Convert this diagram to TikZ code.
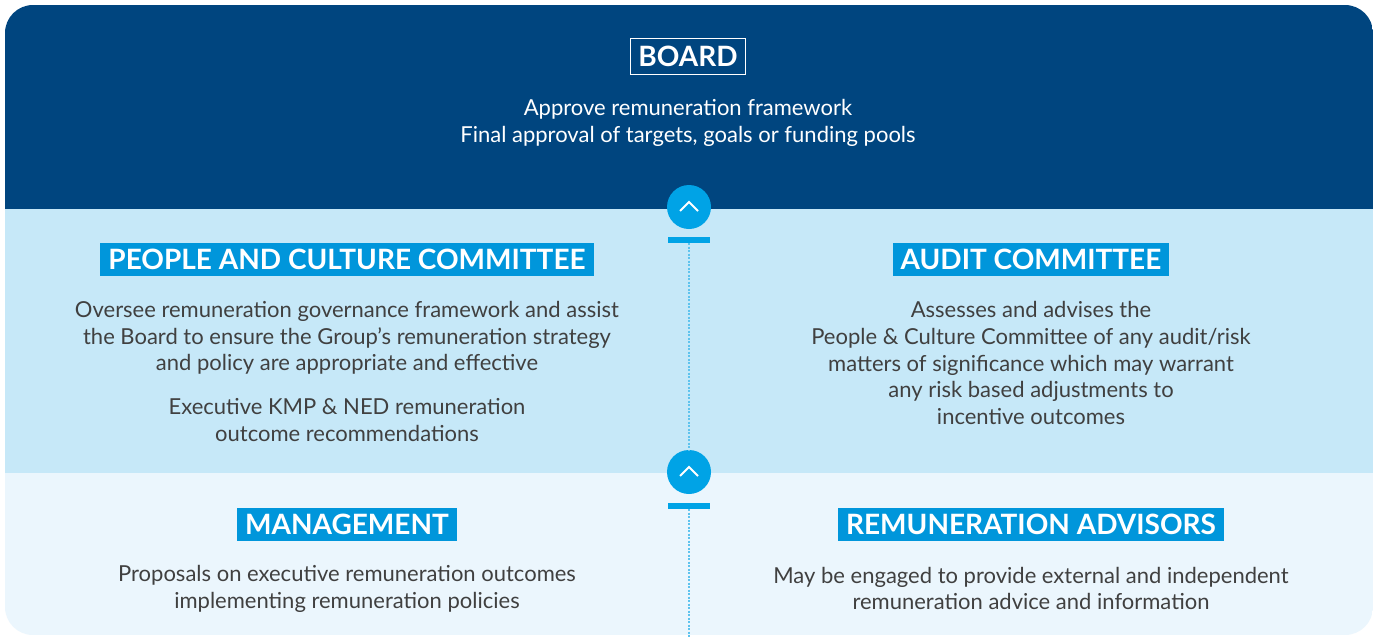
\documentclass[tikz,border=0pt]{standalone}
\usepackage{fontspec}
\setmainfont{Lato}
\usetikzlibrary{positioning}
\definecolor{boardblue}{HTML}{00457F}
\definecolor{midblue}{HTML}{C6E8F8}
\definecolor{paleblue}{HTML}{EBF6FD}
\definecolor{headblue}{HTML}{0096DB}
\definecolor{stepblue}{HTML}{00A3E6}
\definecolor{dotblue}{HTML}{5EC3EE}
\definecolor{bodygrey}{HTML}{404040}
\tikzset{
  heading/.style={fill=headblue, text=white, inner xsep=8pt, inner ysep=6pt,
    font=\fontsize{28}{32}\selectfont\bfseries},
  body/.style={text=bodygrey, align=center, font=\fontsize{22}{26.6}\selectfont},
  stepdot/.style={circle, fill=stepblue, minimum size=44pt, inner sep=0pt},
  stepbar/.style={fill=stepblue, minimum width=42pt, minimum height=6pt, inner sep=0pt},
  dotline/.style={dotblue, line width=2pt, dash pattern=on 2pt off 1.5pt}
}
\begin{document}
\begin{tikzpicture}[x=1pt,y=-1pt]
\useasboundingbox (0,0) rectangle (1378,637);
\fill[white] (0,0) rectangle (1378,637);

% bands
\begin{scope}
\clip[rounded corners=28pt] (5,5) rectangle (1373,635);
\fill[boardblue] (5,5) rectangle (1373,209);
\fill[midblue] (5,209) rectangle (1373,473);
\fill[paleblue] (5,473) rectangle (1373,635);
\end{scope}

% board
\node[draw=white, line width=1.2pt, text=white, inner xsep=8pt, inner ysep=8pt,
  font=\fontsize{28}{32}\selectfont\bfseries] (board) at (688,56.5) {BOARD};
\node[body, text=white] (boardtxt) at (688,123)
  {Approve remuneration framework\\Final approval of targets, goals or funding pools};

% committees
\node[heading] (pcc) at (347,259.5) {PEOPLE AND CULTURE COMMITTEE};
\node[body] (pcctxt) at (347,338) {Oversee remuneration governance framework and assist\\
  the Board to ensure the Group’s remuneration strategy\\and policy are appropriate and effective};
\node[body] (pccrec) at (347,420) {Executive KMP \& NED remuneration\\outcome recommendations};

\node[heading] (audit) at (1031,259.5) {AUDIT COMMITTEE};
\node[body] (audittxt) at (1031,363) {Assesses and advises the\\People \& Culture Committee of any audit/risk\\
  matters of significance which may warrant\\any risk based adjustments to\\incentive outcomes};

% management and advisors
\node[heading] (mgmt) at (347,524.5) {MANAGEMENT};
\node[body] (mgmttxt) at (347,589) {Proposals on executive remuneration outcomes\\implementing remuneration policies};

\node[heading] (adv) at (1031,524.5) {REMUNERATION ADVISORS};
\node[body] (advtxt) at (1031,588.5) {May be engaged to provide external and independent\\remuneration advice and information};

% steps
\node[stepdot] (up1) at (689,207) {};
\node[stepbar] (bar1) at (689,240) {};
\node[stepdot] (up2) at (689,472) {};
\node[stepbar] (bar2) at (689,506) {};
\coordinate (end) at (689,637);
\foreach \c in {up1,up2}
  \draw[white, line width=2pt] ([shift={(-9,4)}]\c.center) -- ([shift={(0,-5)}]\c.center) -- ([shift={(9,4)}]\c.center);

\draw[dotline] (bar1.south) -- (up2.north);
\draw[dotline] (bar2.south) -- (end);
\end{tikzpicture}
\end{document}
